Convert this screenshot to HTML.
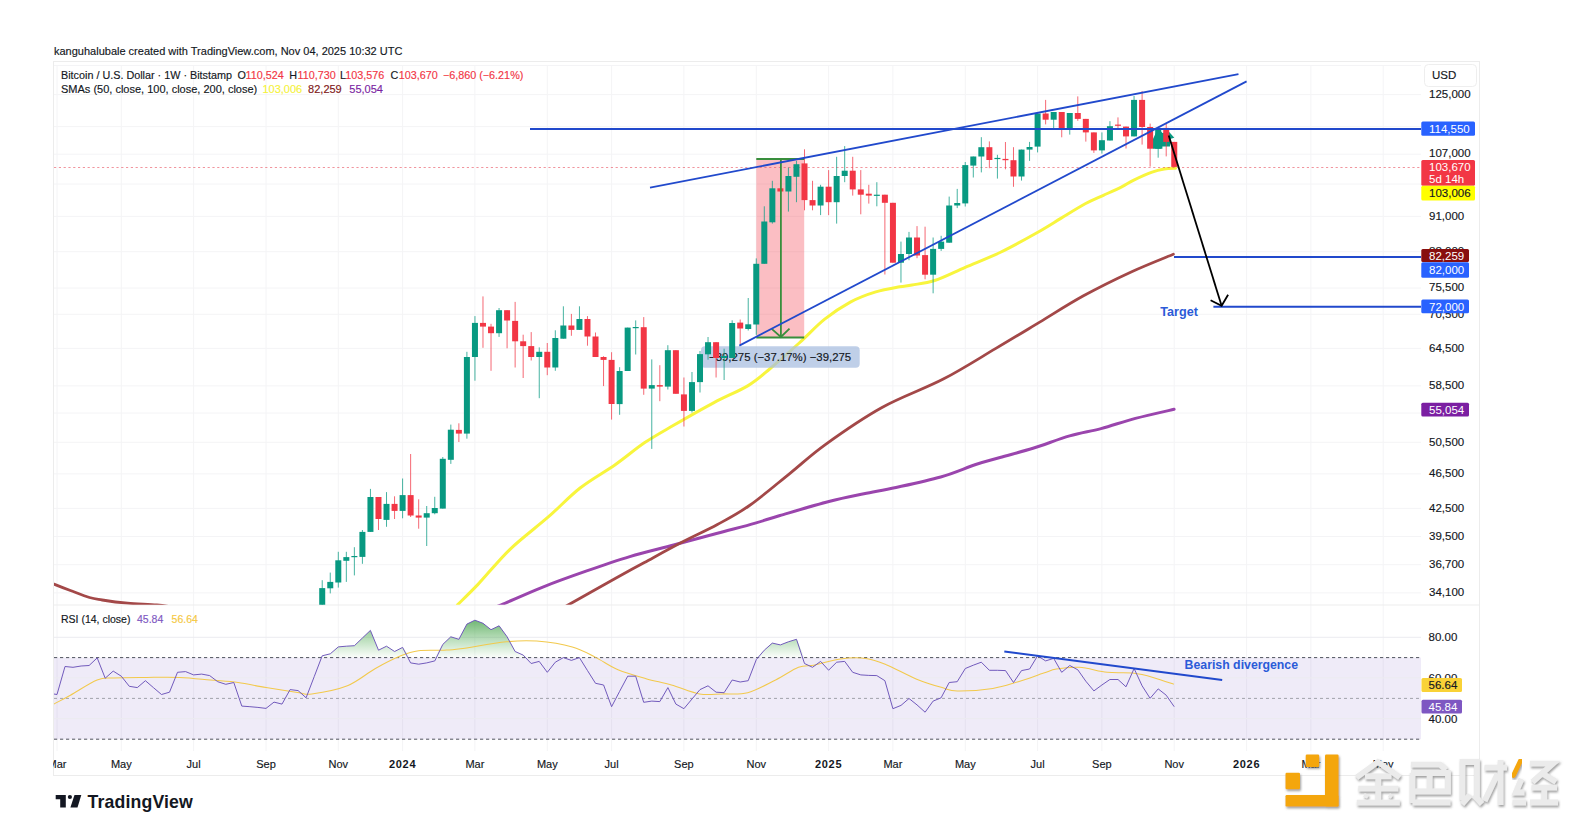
<!DOCTYPE html>
<html><head><meta charset="utf-8"><style>
html,body{margin:0;padding:0;background:#fff;width:1574px;height:822px;overflow:hidden}
svg{display:block}
text{font-family:'Liberation Sans',sans-serif}
</style></head><body>
<svg width="1574" height="822" viewBox="0 0 1574 822">
<defs>
<clipPath id="mainclip"><rect x="54" y="62" width="1367" height="542.8"/></clipPath>
<clipPath id="rsiclip"><rect x="54" y="605" width="1367" height="146"/></clipPath>
<linearGradient id="gfill" x1="0" y1="0" x2="0" y2="1">
<stop offset="0" stop-color="#43a047" stop-opacity="0.75"/>
<stop offset="1" stop-color="#4caf50" stop-opacity="0.02"/>
</linearGradient>
<filter id="wsh" x="-10%" y="-10%" width="130%" height="140%"><feDropShadow dx="1" dy="1.8" stdDeviation="1.2" flood-color="#6a6a6a" flood-opacity="0.65"/></filter>
</defs>
<rect width="1574" height="822" fill="#fff"/>

<text stroke="#131722" stroke-width="0.15" x="54" y="55.3" font-size="11" fill="#131722">kanguhalubale created with TradingView.com, Nov 04, 2025 10:32 UTC</text>
<rect x="53.5" y="61.5" width="1426" height="714" fill="none" stroke="#ececec" stroke-width="1"/>
<line x1="57.0" y1="65" x2="57.0" y2="751" stroke="#f4f4f6" stroke-width="1"/>
<line x1="121.3" y1="65" x2="121.3" y2="751" stroke="#f4f4f6" stroke-width="1"/>
<line x1="193.6" y1="65" x2="193.6" y2="751" stroke="#f4f4f6" stroke-width="1"/>
<line x1="266.0" y1="65" x2="266.0" y2="751" stroke="#f4f4f6" stroke-width="1"/>
<line x1="338.3" y1="65" x2="338.3" y2="751" stroke="#f4f4f6" stroke-width="1"/>
<line x1="402.6" y1="65" x2="402.6" y2="751" stroke="#f4f4f6" stroke-width="1"/>
<line x1="474.9" y1="65" x2="474.9" y2="751" stroke="#f4f4f6" stroke-width="1"/>
<line x1="547.3" y1="65" x2="547.3" y2="751" stroke="#f4f4f6" stroke-width="1"/>
<line x1="611.6" y1="65" x2="611.6" y2="751" stroke="#f4f4f6" stroke-width="1"/>
<line x1="683.9" y1="65" x2="683.9" y2="751" stroke="#f4f4f6" stroke-width="1"/>
<line x1="756.3" y1="65" x2="756.3" y2="751" stroke="#f4f4f6" stroke-width="1"/>
<line x1="828.6" y1="65" x2="828.6" y2="751" stroke="#f4f4f6" stroke-width="1"/>
<line x1="892.9" y1="65" x2="892.9" y2="751" stroke="#f4f4f6" stroke-width="1"/>
<line x1="965.3" y1="65" x2="965.3" y2="751" stroke="#f4f4f6" stroke-width="1"/>
<line x1="1037.6" y1="65" x2="1037.6" y2="751" stroke="#f4f4f6" stroke-width="1"/>
<line x1="1101.9" y1="65" x2="1101.9" y2="751" stroke="#f4f4f6" stroke-width="1"/>
<line x1="1174.2" y1="65" x2="1174.2" y2="751" stroke="#f4f4f6" stroke-width="1"/>
<line x1="1246.6" y1="65" x2="1246.6" y2="751" stroke="#f4f4f6" stroke-width="1"/>
<line x1="1310.9" y1="65" x2="1310.9" y2="751" stroke="#f4f4f6" stroke-width="1"/>
<line x1="1383.2" y1="65" x2="1383.2" y2="751" stroke="#f4f4f6" stroke-width="1"/>
<line x1="54" y1="94.6" x2="1421" y2="94.6" stroke="#f4f4f6" stroke-width="1"/>
<line x1="54" y1="126.6" x2="1421" y2="126.6" stroke="#f4f4f6" stroke-width="1"/>
<line x1="54" y1="154.2" x2="1421" y2="154.2" stroke="#f4f4f6" stroke-width="1"/>
<line x1="54" y1="184.0" x2="1421" y2="184.0" stroke="#f4f4f6" stroke-width="1"/>
<line x1="54" y1="216.4" x2="1421" y2="216.4" stroke="#f4f4f6" stroke-width="1"/>
<line x1="54" y1="251.7" x2="1421" y2="251.7" stroke="#f4f4f6" stroke-width="1"/>
<line x1="54" y1="288.0" x2="1421" y2="288.0" stroke="#f4f4f6" stroke-width="1"/>
<line x1="54" y1="314.3" x2="1421" y2="314.3" stroke="#f4f4f6" stroke-width="1"/>
<line x1="54" y1="348.4" x2="1421" y2="348.4" stroke="#f4f4f6" stroke-width="1"/>
<line x1="54" y1="385.9" x2="1421" y2="385.9" stroke="#f4f4f6" stroke-width="1"/>
<line x1="54" y1="413.0" x2="1421" y2="413.0" stroke="#f4f4f6" stroke-width="1"/>
<line x1="54" y1="442.3" x2="1421" y2="442.3" stroke="#f4f4f6" stroke-width="1"/>
<line x1="54" y1="473.9" x2="1421" y2="473.9" stroke="#f4f4f6" stroke-width="1"/>
<line x1="54" y1="508.4" x2="1421" y2="508.4" stroke="#f4f4f6" stroke-width="1"/>
<line x1="54" y1="536.5" x2="1421" y2="536.5" stroke="#f4f4f6" stroke-width="1"/>
<line x1="54" y1="564.7" x2="1421" y2="564.7" stroke="#f4f4f6" stroke-width="1"/>
<line x1="54" y1="592.9" x2="1421" y2="592.9" stroke="#f4f4f6" stroke-width="1"/>
<line x1="54" y1="65.5" x2="1421" y2="65.5" stroke="#f4f4f6" stroke-width="1"/>
<line x1="54" y1="605" x2="1479" y2="605" stroke="#ededed" stroke-width="1"/>
<g clip-path="url(#mainclip)">
<rect x="756.3" y="158.9" width="47.9" height="178.6" fill="#f23645" fill-opacity="0.32"/>
<path d="M53.9,584.1 C56.6,585.2 64.5,588.3 70.4,590.5 C76.3,592.7 84.2,595.9 89.5,597.5 C94.8,599.1 95.9,599.0 102.2,600.0 C108.5,601.0 118.5,602.4 127.6,603.2 C136.7,604.0 148.7,604.3 156.8,605.0 C164.9,605.7 172.8,607.1 176.0,607.5" fill="none" stroke="#a34848" stroke-width="2.8" stroke-linecap="round"/>
<path d="M490.0,609.0 C491.9,608.3 492.6,608.4 501.3,604.8 C510.0,601.2 528.1,592.9 542.2,587.3 C556.3,581.7 571.4,576.3 586.0,571.2 C600.6,566.1 615.2,561.0 629.8,556.6 C644.4,552.2 659.0,548.9 673.6,545.0 C688.2,541.1 703.8,536.9 717.4,533.3 C731.0,529.6 744.9,526.1 755.3,523.1 C765.7,520.1 767.7,519.1 780.0,515.5 C792.3,511.9 814.9,505.1 828.9,501.5 C842.9,497.9 852.7,496.1 863.9,493.8 C875.1,491.5 883.2,490.3 896.0,487.5 C908.8,484.7 927.4,480.8 940.7,477.0 C954.0,473.2 965.8,467.8 975.7,464.5 C985.6,461.2 990.5,460.2 1000.0,457.5 C1009.5,454.8 1021.4,451.9 1033.0,448.3 C1044.6,444.7 1058.3,439.2 1069.6,435.9 C1080.9,432.6 1090.0,431.5 1101.0,428.6 C1112.0,425.7 1123.2,421.6 1135.4,418.4 C1147.6,415.2 1167.6,410.8 1174.1,409.3" fill="none" stroke="#9a45ad" stroke-width="3" stroke-linecap="round"/>
<path d="M560.0,609.0 C561.4,608.3 559.3,609.9 568.5,604.8 C577.7,599.7 602.6,585.5 615.2,578.5 C627.9,571.5 633.2,568.6 644.4,562.5 C655.6,556.4 670.1,548.3 682.3,542.0 C694.5,535.7 706.2,530.6 717.4,524.5 C728.6,518.4 737.4,514.0 749.5,505.5 C761.6,497.0 777.4,483.4 790.0,473.3 C802.6,463.2 809.7,455.8 825.0,444.8 C840.3,433.8 862.3,418.4 882.0,407.5 C901.7,396.6 924.3,389.0 943.3,379.1 C962.3,369.2 979.8,357.9 995.9,348.4 C1012.0,338.9 1025.1,330.9 1039.7,322.1 C1054.3,313.3 1068.2,304.2 1083.5,295.8 C1098.8,287.4 1116.7,278.6 1131.7,271.7 C1146.7,264.8 1166.5,257.1 1173.4,254.2" fill="none" stroke="#a34848" stroke-width="2.8" stroke-linecap="round"/>
<path d="M457.5,604.8 C460.9,601.4 469.2,593.6 478.0,584.4 C486.8,575.1 498.3,560.5 510.0,549.3 C521.7,538.1 536.3,527.4 548.0,517.2 C559.7,507.0 568.9,496.8 580.1,488.0 C591.3,479.2 604.5,472.2 615.2,464.7 C625.9,457.2 634.7,449.4 644.4,442.8 C654.1,436.2 662.0,432.0 673.6,425.3 C685.2,418.6 701.6,409.2 714.0,402.6 C726.4,396.0 738.7,391.3 748.1,385.6 C757.5,379.9 761.7,375.6 770.2,368.5 C778.7,361.4 790.1,351.2 799.2,343.0 C808.3,334.8 816.2,326.0 824.7,319.2 C833.2,312.4 841.8,306.7 850.3,302.1 C858.8,297.6 867.6,294.4 875.8,291.9 C884.0,289.3 893.6,287.9 899.6,286.8 C905.6,285.7 906.2,286.1 912.0,285.0 C917.8,283.9 925.7,283.4 934.6,280.5 C943.5,277.6 954.3,272.0 965.2,267.3 C976.1,262.6 988.1,258.2 1000.0,252.5 C1011.9,246.8 1026.4,238.7 1036.5,233.0 C1046.6,227.3 1052.7,223.3 1060.8,218.4 C1068.9,213.5 1078.1,207.7 1085.2,203.8 C1092.3,200.0 1097.3,198.1 1103.4,195.3 C1109.5,192.5 1116.6,189.3 1121.7,186.8 C1126.8,184.3 1128.7,182.5 1133.8,180.1 C1138.9,177.7 1147.0,174.0 1152.1,172.2 C1157.2,170.4 1160.3,169.8 1164.2,169.1 C1168.1,168.4 1173.6,168.4 1175.5,168.3" fill="none" stroke="#f8f53d" stroke-width="3" stroke-linecap="round"/>
<line x1="54" y1="167.5" x2="1421" y2="167.5" stroke="#e8505e" stroke-width="1" stroke-dasharray="2.2,2.6" opacity="0.6"/>
</g>
<rect x="701" y="346.2" width="158.7" height="21.6" rx="4" fill="#a9bfe0" fill-opacity="0.75"/>
<text stroke="#131722" stroke-width="0.15" x="709" y="360.9" font-size="11.4" fill="#131722">−39,275 (−37.17%) −39,275</text>
<g clip-path="url(#mainclip)">
<polygon points="1153,148.7 1153,139 1158.1,127.9 1162.4,133 1169.2,132.1 1174.3,137.7 1170,139 1170,146.6 1162.4,146.6 1162.4,148.7" fill="#089981"/>
<line x1="322.22" y1="580.2" x2="322.22" y2="605.0" stroke="#089981" stroke-width="1" stroke-opacity="0.75"/>
<rect x="319.22" y="588.1" width="6" height="16.9" fill="#089981"/>
<line x1="330.26" y1="572.6" x2="330.26" y2="593.4" stroke="#089981" stroke-width="1" stroke-opacity="0.75"/>
<rect x="327.26" y="581.9" width="6" height="6.4" fill="#089981"/>
<line x1="338.30" y1="551.8" x2="338.30" y2="587.6" stroke="#089981" stroke-width="1" stroke-opacity="0.75"/>
<rect x="335.30" y="560.3" width="6" height="22.2" fill="#089981"/>
<line x1="346.33" y1="551.8" x2="346.33" y2="581.9" stroke="#089981" stroke-width="1" stroke-opacity="0.75"/>
<rect x="343.33" y="557.1" width="6" height="3.7" fill="#089981"/>
<line x1="354.37" y1="547.2" x2="354.37" y2="575.4" stroke="#089981" stroke-width="1" stroke-opacity="0.75"/>
<rect x="351.37" y="556.0" width="6" height="1.2" fill="#089981"/>
<line x1="362.41" y1="530.0" x2="362.41" y2="563.8" stroke="#089981" stroke-width="1" stroke-opacity="0.75"/>
<rect x="359.41" y="531.9" width="6" height="25.0" fill="#089981"/>
<line x1="370.45" y1="488.9" x2="370.45" y2="531.9" stroke="#089981" stroke-width="1" stroke-opacity="0.75"/>
<rect x="367.45" y="497.0" width="6" height="34.9" fill="#089981"/>
<line x1="378.49" y1="497.0" x2="378.49" y2="530.0" stroke="#f23645" stroke-width="1" stroke-opacity="0.75"/>
<rect x="375.49" y="497.0" width="6" height="22.0" fill="#f23645"/>
<line x1="386.52" y1="492.1" x2="386.52" y2="526.8" stroke="#089981" stroke-width="1" stroke-opacity="0.75"/>
<rect x="383.52" y="503.9" width="6" height="16.0" fill="#089981"/>
<line x1="394.56" y1="496.3" x2="394.56" y2="519.0" stroke="#f23645" stroke-width="1" stroke-opacity="0.75"/>
<rect x="391.56" y="503.9" width="6" height="7.0" fill="#f23645"/>
<line x1="402.60" y1="478.5" x2="402.60" y2="518.3" stroke="#089981" stroke-width="1" stroke-opacity="0.75"/>
<rect x="399.60" y="495.1" width="6" height="15.8" fill="#089981"/>
<line x1="410.64" y1="454.0" x2="410.64" y2="517.0" stroke="#f23645" stroke-width="1" stroke-opacity="0.75"/>
<rect x="407.64" y="495.1" width="6" height="20.4" fill="#f23645"/>
<line x1="418.68" y1="499.3" x2="418.68" y2="528.7" stroke="#f23645" stroke-width="1" stroke-opacity="0.75"/>
<rect x="415.68" y="515.5" width="6" height="2.1" fill="#f23645"/>
<line x1="426.71" y1="506.0" x2="426.71" y2="546.0" stroke="#089981" stroke-width="1" stroke-opacity="0.75"/>
<rect x="423.71" y="513.2" width="6" height="4.4" fill="#089981"/>
<line x1="434.75" y1="496.8" x2="434.75" y2="514.3" stroke="#089981" stroke-width="1" stroke-opacity="0.75"/>
<rect x="431.75" y="508.0" width="6" height="5.2" fill="#089981"/>
<line x1="442.79" y1="457.0" x2="442.79" y2="508.6" stroke="#089981" stroke-width="1" stroke-opacity="0.75"/>
<rect x="439.79" y="458.8" width="6" height="49.8" fill="#089981"/>
<line x1="450.83" y1="424.6" x2="450.83" y2="463.9" stroke="#089981" stroke-width="1" stroke-opacity="0.75"/>
<rect x="447.83" y="429.7" width="6" height="30.1" fill="#089981"/>
<line x1="458.87" y1="423.3" x2="458.87" y2="442.0" stroke="#f23645" stroke-width="1" stroke-opacity="0.75"/>
<rect x="455.87" y="429.9" width="6" height="3.7" fill="#f23645"/>
<line x1="466.90" y1="351.8" x2="466.90" y2="438.7" stroke="#089981" stroke-width="1" stroke-opacity="0.75"/>
<rect x="463.90" y="357.0" width="6" height="76.6" fill="#089981"/>
<line x1="474.94" y1="316.1" x2="474.94" y2="380.7" stroke="#089981" stroke-width="1" stroke-opacity="0.75"/>
<rect x="471.94" y="322.9" width="6" height="34.1" fill="#089981"/>
<line x1="482.98" y1="296.4" x2="482.98" y2="347.8" stroke="#f23645" stroke-width="1" stroke-opacity="0.75"/>
<rect x="479.98" y="322.9" width="6" height="3.7" fill="#f23645"/>
<line x1="491.02" y1="323.8" x2="491.02" y2="370.8" stroke="#f23645" stroke-width="1" stroke-opacity="0.75"/>
<rect x="488.02" y="326.6" width="6" height="6.6" fill="#f23645"/>
<line x1="499.06" y1="308.0" x2="499.06" y2="336.9" stroke="#089981" stroke-width="1" stroke-opacity="0.75"/>
<rect x="496.06" y="310.2" width="6" height="23.0" fill="#089981"/>
<line x1="507.09" y1="310.2" x2="507.09" y2="348.3" stroke="#f23645" stroke-width="1" stroke-opacity="0.75"/>
<rect x="504.09" y="310.2" width="6" height="10.3" fill="#f23645"/>
<line x1="515.13" y1="301.9" x2="515.13" y2="367.5" stroke="#f23645" stroke-width="1" stroke-opacity="0.75"/>
<rect x="512.13" y="320.9" width="6" height="20.4" fill="#f23645"/>
<line x1="523.17" y1="334.7" x2="523.17" y2="378.0" stroke="#f23645" stroke-width="1" stroke-opacity="0.75"/>
<rect x="520.17" y="341.3" width="6" height="4.8" fill="#f23645"/>
<line x1="531.21" y1="332.1" x2="531.21" y2="360.5" stroke="#f23645" stroke-width="1" stroke-opacity="0.75"/>
<rect x="528.21" y="346.1" width="6" height="10.9" fill="#f23645"/>
<line x1="539.25" y1="347.4" x2="539.25" y2="398.2" stroke="#089981" stroke-width="1" stroke-opacity="0.75"/>
<rect x="536.25" y="351.8" width="6" height="5.2" fill="#089981"/>
<line x1="547.28" y1="343.0" x2="547.28" y2="375.2" stroke="#f23645" stroke-width="1" stroke-opacity="0.75"/>
<rect x="544.28" y="351.8" width="6" height="15.7" fill="#f23645"/>
<line x1="555.32" y1="330.3" x2="555.32" y2="370.8" stroke="#089981" stroke-width="1" stroke-opacity="0.75"/>
<rect x="552.32" y="338.0" width="6" height="29.5" fill="#089981"/>
<line x1="563.36" y1="306.3" x2="563.36" y2="338.7" stroke="#089981" stroke-width="1" stroke-opacity="0.75"/>
<rect x="560.36" y="325.5" width="6" height="13.2" fill="#089981"/>
<line x1="571.40" y1="313.9" x2="571.40" y2="335.8" stroke="#f23645" stroke-width="1" stroke-opacity="0.75"/>
<rect x="568.40" y="325.5" width="6" height="4.4" fill="#f23645"/>
<line x1="579.44" y1="306.3" x2="579.44" y2="329.9" stroke="#089981" stroke-width="1" stroke-opacity="0.75"/>
<rect x="576.44" y="319.0" width="6" height="10.9" fill="#089981"/>
<line x1="587.47" y1="316.1" x2="587.47" y2="345.7" stroke="#f23645" stroke-width="1" stroke-opacity="0.75"/>
<rect x="584.47" y="319.0" width="6" height="17.5" fill="#f23645"/>
<line x1="595.51" y1="332.5" x2="595.51" y2="357.0" stroke="#f23645" stroke-width="1" stroke-opacity="0.75"/>
<rect x="592.51" y="336.5" width="6" height="20.5" fill="#f23645"/>
<line x1="603.55" y1="356.2" x2="603.55" y2="386.1" stroke="#f23645" stroke-width="1" stroke-opacity="0.75"/>
<rect x="600.55" y="357.0" width="6" height="2.9" fill="#f23645"/>
<line x1="611.59" y1="352.2" x2="611.59" y2="419.6" stroke="#f23645" stroke-width="1" stroke-opacity="0.75"/>
<rect x="608.59" y="359.9" width="6" height="44.1" fill="#f23645"/>
<line x1="619.63" y1="367.2" x2="619.63" y2="414.8" stroke="#089981" stroke-width="1" stroke-opacity="0.75"/>
<rect x="616.63" y="371.0" width="6" height="33.1" fill="#089981"/>
<line x1="627.66" y1="327.6" x2="627.66" y2="371.0" stroke="#089981" stroke-width="1" stroke-opacity="0.75"/>
<rect x="624.66" y="327.6" width="6" height="43.4" fill="#089981"/>
<line x1="635.70" y1="320.4" x2="635.70" y2="354.5" stroke="#089981" stroke-width="1" stroke-opacity="0.75"/>
<rect x="632.70" y="327.0" width="6" height="1.2" fill="#089981"/>
<line x1="643.74" y1="317.1" x2="643.74" y2="394.8" stroke="#f23645" stroke-width="1" stroke-opacity="0.75"/>
<rect x="640.74" y="327.2" width="6" height="61.4" fill="#f23645"/>
<line x1="651.78" y1="359.4" x2="651.78" y2="448.9" stroke="#089981" stroke-width="1" stroke-opacity="0.75"/>
<rect x="648.78" y="385.1" width="6" height="3.5" fill="#089981"/>
<line x1="659.82" y1="365.2" x2="659.82" y2="401.2" stroke="#f23645" stroke-width="1" stroke-opacity="0.75"/>
<rect x="656.82" y="385.1" width="6" height="1.5" fill="#f23645"/>
<line x1="667.85" y1="345.2" x2="667.85" y2="389.5" stroke="#089981" stroke-width="1" stroke-opacity="0.75"/>
<rect x="664.85" y="350.2" width="6" height="36.4" fill="#089981"/>
<line x1="675.89" y1="350.2" x2="675.89" y2="393.8" stroke="#f23645" stroke-width="1" stroke-opacity="0.75"/>
<rect x="672.89" y="350.2" width="6" height="43.6" fill="#f23645"/>
<line x1="683.93" y1="377.5" x2="683.93" y2="426.5" stroke="#f23645" stroke-width="1" stroke-opacity="0.75"/>
<rect x="680.93" y="394.4" width="6" height="16.5" fill="#f23645"/>
<line x1="691.97" y1="372.0" x2="691.97" y2="412.5" stroke="#089981" stroke-width="1" stroke-opacity="0.75"/>
<rect x="688.97" y="382.1" width="6" height="28.8" fill="#089981"/>
<line x1="700.01" y1="351.0" x2="700.01" y2="392.5" stroke="#089981" stroke-width="1" stroke-opacity="0.75"/>
<rect x="697.01" y="354.1" width="6" height="28.0" fill="#089981"/>
<line x1="708.04" y1="337.0" x2="708.04" y2="359.7" stroke="#089981" stroke-width="1" stroke-opacity="0.75"/>
<rect x="705.04" y="342.2" width="6" height="12.1" fill="#089981"/>
<line x1="716.08" y1="342.2" x2="716.08" y2="377.5" stroke="#f23645" stroke-width="1" stroke-opacity="0.75"/>
<rect x="713.08" y="342.2" width="6" height="15.8" fill="#f23645"/>
<line x1="724.12" y1="348.7" x2="724.12" y2="380.0" stroke="#089981" stroke-width="1" stroke-opacity="0.75"/>
<rect x="721.12" y="356.0" width="6" height="2.0" fill="#089981"/>
<line x1="732.16" y1="320.3" x2="732.16" y2="358.0" stroke="#089981" stroke-width="1" stroke-opacity="0.75"/>
<rect x="729.16" y="323.0" width="6" height="35.0" fill="#089981"/>
<line x1="740.20" y1="319.5" x2="740.20" y2="344.0" stroke="#f23645" stroke-width="1" stroke-opacity="0.75"/>
<rect x="737.20" y="322.6" width="6" height="5.9" fill="#f23645"/>
<line x1="748.23" y1="298.0" x2="748.23" y2="330.5" stroke="#089981" stroke-width="1" stroke-opacity="0.75"/>
<rect x="745.23" y="324.3" width="6" height="4.7" fill="#089981"/>
<line x1="756.27" y1="258.4" x2="756.27" y2="334.8" stroke="#089981" stroke-width="1" stroke-opacity="0.75"/>
<rect x="753.27" y="263.8" width="6" height="60.7" fill="#089981"/>
<line x1="764.31" y1="206.3" x2="764.31" y2="263.8" stroke="#089981" stroke-width="1" stroke-opacity="0.75"/>
<rect x="761.31" y="221.5" width="6" height="42.3" fill="#089981"/>
<line x1="772.35" y1="180.8" x2="772.35" y2="223.6" stroke="#089981" stroke-width="1" stroke-opacity="0.75"/>
<rect x="769.35" y="188.3" width="6" height="34.0" fill="#089981"/>
<line x1="780.39" y1="188.3" x2="780.39" y2="191.5" stroke="#f23645" stroke-width="1" stroke-opacity="0.75"/>
<rect x="777.39" y="188.3" width="6" height="3.2" fill="#f23645"/>
<line x1="788.42" y1="167.5" x2="788.42" y2="211.6" stroke="#089981" stroke-width="1" stroke-opacity="0.75"/>
<rect x="785.42" y="176.0" width="6" height="15.5" fill="#089981"/>
<line x1="796.46" y1="160.8" x2="796.46" y2="202.2" stroke="#089981" stroke-width="1" stroke-opacity="0.75"/>
<rect x="793.46" y="164.2" width="6" height="12.6" fill="#089981"/>
<line x1="804.50" y1="149.3" x2="804.50" y2="210.3" stroke="#f23645" stroke-width="1" stroke-opacity="0.75"/>
<rect x="801.50" y="163.4" width="6" height="36.7" fill="#f23645"/>
<line x1="812.54" y1="180.8" x2="812.54" y2="210.3" stroke="#f23645" stroke-width="1" stroke-opacity="0.75"/>
<rect x="809.54" y="200.1" width="6" height="5.4" fill="#f23645"/>
<line x1="820.58" y1="184.8" x2="820.58" y2="215.1" stroke="#089981" stroke-width="1" stroke-opacity="0.75"/>
<rect x="817.58" y="186.7" width="6" height="18.8" fill="#089981"/>
<line x1="828.61" y1="170.1" x2="828.61" y2="215.1" stroke="#f23645" stroke-width="1" stroke-opacity="0.75"/>
<rect x="825.61" y="186.7" width="6" height="15.5" fill="#f23645"/>
<line x1="836.65" y1="156.8" x2="836.65" y2="223.6" stroke="#089981" stroke-width="1" stroke-opacity="0.75"/>
<rect x="833.65" y="176.0" width="6" height="26.2" fill="#089981"/>
<line x1="844.69" y1="146.1" x2="844.69" y2="182.2" stroke="#089981" stroke-width="1" stroke-opacity="0.75"/>
<rect x="841.69" y="170.7" width="6" height="5.3" fill="#089981"/>
<line x1="852.73" y1="156.8" x2="852.73" y2="195.6" stroke="#f23645" stroke-width="1" stroke-opacity="0.75"/>
<rect x="849.73" y="170.7" width="6" height="18.7" fill="#f23645"/>
<line x1="860.77" y1="170.1" x2="860.77" y2="214.3" stroke="#f23645" stroke-width="1" stroke-opacity="0.75"/>
<rect x="857.77" y="189.4" width="6" height="5.3" fill="#f23645"/>
<line x1="868.80" y1="184.8" x2="868.80" y2="203.6" stroke="#f23645" stroke-width="1" stroke-opacity="0.75"/>
<rect x="865.80" y="193.7" width="6" height="1.9" fill="#f23645"/>
<line x1="876.84" y1="182.2" x2="876.84" y2="206.3" stroke="#089981" stroke-width="1" stroke-opacity="0.75"/>
<rect x="873.84" y="194.7" width="6" height="1.2" fill="#089981"/>
<line x1="884.88" y1="194.7" x2="884.88" y2="274.5" stroke="#f23645" stroke-width="1" stroke-opacity="0.75"/>
<rect x="881.88" y="194.7" width="6" height="8.1" fill="#f23645"/>
<line x1="892.92" y1="202.8" x2="892.92" y2="262.7" stroke="#f23645" stroke-width="1" stroke-opacity="0.75"/>
<rect x="889.92" y="202.8" width="6" height="59.9" fill="#f23645"/>
<line x1="900.96" y1="241.6" x2="900.96" y2="282.6" stroke="#089981" stroke-width="1" stroke-opacity="0.75"/>
<rect x="897.96" y="254.0" width="6" height="8.7" fill="#089981"/>
<line x1="908.99" y1="231.9" x2="908.99" y2="260.2" stroke="#089981" stroke-width="1" stroke-opacity="0.75"/>
<rect x="905.99" y="237.5" width="6" height="16.5" fill="#089981"/>
<line x1="917.03" y1="226.1" x2="917.03" y2="258.2" stroke="#f23645" stroke-width="1" stroke-opacity="0.75"/>
<rect x="914.03" y="237.5" width="6" height="18.0" fill="#f23645"/>
<line x1="925.07" y1="226.7" x2="925.07" y2="279.3" stroke="#f23645" stroke-width="1" stroke-opacity="0.75"/>
<rect x="922.07" y="255.1" width="6" height="19.6" fill="#f23645"/>
<line x1="933.11" y1="237.5" x2="933.11" y2="293.3" stroke="#089981" stroke-width="1" stroke-opacity="0.75"/>
<rect x="930.11" y="248.9" width="6" height="25.8" fill="#089981"/>
<line x1="941.15" y1="235.8" x2="941.15" y2="250.9" stroke="#089981" stroke-width="1" stroke-opacity="0.75"/>
<rect x="938.15" y="241.6" width="6" height="7.3" fill="#089981"/>
<line x1="949.18" y1="196.6" x2="949.18" y2="242.7" stroke="#089981" stroke-width="1" stroke-opacity="0.75"/>
<rect x="946.18" y="205.5" width="6" height="37.2" fill="#089981"/>
<line x1="957.22" y1="188.9" x2="957.22" y2="208.1" stroke="#089981" stroke-width="1" stroke-opacity="0.75"/>
<rect x="954.22" y="203.0" width="6" height="2.5" fill="#089981"/>
<line x1="965.26" y1="162.0" x2="965.26" y2="206.5" stroke="#089981" stroke-width="1" stroke-opacity="0.75"/>
<rect x="962.26" y="165.1" width="6" height="38.3" fill="#089981"/>
<line x1="973.30" y1="156.5" x2="973.30" y2="177.5" stroke="#089981" stroke-width="1" stroke-opacity="0.75"/>
<rect x="970.30" y="156.5" width="6" height="9.1" fill="#089981"/>
<line x1="981.34" y1="137.2" x2="981.34" y2="172.4" stroke="#089981" stroke-width="1" stroke-opacity="0.75"/>
<rect x="978.34" y="147.2" width="6" height="9.3" fill="#089981"/>
<line x1="989.37" y1="141.4" x2="989.37" y2="168.2" stroke="#f23645" stroke-width="1" stroke-opacity="0.75"/>
<rect x="986.37" y="147.2" width="6" height="12.8" fill="#f23645"/>
<line x1="997.41" y1="154.8" x2="997.41" y2="178.6" stroke="#089981" stroke-width="1" stroke-opacity="0.75"/>
<rect x="994.41" y="157.9" width="6" height="1.2" fill="#089981"/>
<line x1="1005.45" y1="142.0" x2="1005.45" y2="169.3" stroke="#f23645" stroke-width="1" stroke-opacity="0.75"/>
<rect x="1002.45" y="158.9" width="6" height="1.3" fill="#f23645"/>
<line x1="1013.49" y1="147.2" x2="1013.49" y2="186.8" stroke="#f23645" stroke-width="1" stroke-opacity="0.75"/>
<rect x="1010.49" y="160.2" width="6" height="16.3" fill="#f23645"/>
<line x1="1021.53" y1="149.6" x2="1021.53" y2="180.6" stroke="#089981" stroke-width="1" stroke-opacity="0.75"/>
<rect x="1018.53" y="149.6" width="6" height="26.9" fill="#089981"/>
<line x1="1029.56" y1="141.9" x2="1029.56" y2="160.9" stroke="#089981" stroke-width="1" stroke-opacity="0.75"/>
<rect x="1026.56" y="147.0" width="6" height="2.6" fill="#089981"/>
<line x1="1037.60" y1="112.7" x2="1037.60" y2="152.4" stroke="#089981" stroke-width="1" stroke-opacity="0.75"/>
<rect x="1034.60" y="113.5" width="6" height="33.1" fill="#089981"/>
<line x1="1045.64" y1="99.9" x2="1045.64" y2="124.4" stroke="#f23645" stroke-width="1" stroke-opacity="0.75"/>
<rect x="1042.64" y="113.5" width="6" height="6.2" fill="#f23645"/>
<line x1="1053.68" y1="112.0" x2="1053.68" y2="128.1" stroke="#089981" stroke-width="1" stroke-opacity="0.75"/>
<rect x="1050.68" y="112.0" width="6" height="7.7" fill="#089981"/>
<line x1="1061.72" y1="112.0" x2="1061.72" y2="137.3" stroke="#f23645" stroke-width="1" stroke-opacity="0.75"/>
<rect x="1058.72" y="112.0" width="6" height="17.8" fill="#f23645"/>
<line x1="1069.75" y1="113.0" x2="1069.75" y2="134.6" stroke="#089981" stroke-width="1" stroke-opacity="0.75"/>
<rect x="1066.75" y="113.0" width="6" height="16.8" fill="#089981"/>
<line x1="1077.79" y1="96.4" x2="1077.79" y2="120.8" stroke="#f23645" stroke-width="1" stroke-opacity="0.75"/>
<rect x="1074.79" y="113.0" width="6" height="5.9" fill="#f23645"/>
<line x1="1085.83" y1="118.9" x2="1085.83" y2="141.6" stroke="#f23645" stroke-width="1" stroke-opacity="0.75"/>
<rect x="1082.83" y="118.9" width="6" height="13.5" fill="#f23645"/>
<line x1="1093.87" y1="132.4" x2="1093.87" y2="152.9" stroke="#f23645" stroke-width="1" stroke-opacity="0.75"/>
<rect x="1090.87" y="132.4" width="6" height="18.0" fill="#f23645"/>
<line x1="1101.91" y1="132.4" x2="1101.91" y2="153.6" stroke="#089981" stroke-width="1" stroke-opacity="0.75"/>
<rect x="1098.91" y="140.2" width="6" height="10.2" fill="#089981"/>
<line x1="1109.94" y1="121.2" x2="1109.94" y2="140.5" stroke="#089981" stroke-width="1" stroke-opacity="0.75"/>
<rect x="1106.94" y="126.2" width="6" height="14.3" fill="#089981"/>
<line x1="1117.98" y1="117.4" x2="1117.98" y2="128.1" stroke="#f23645" stroke-width="1" stroke-opacity="0.75"/>
<rect x="1114.98" y="124.6" width="6" height="1.2" fill="#f23645"/>
<line x1="1126.02" y1="126.6" x2="1126.02" y2="148.5" stroke="#f23645" stroke-width="1" stroke-opacity="0.75"/>
<rect x="1123.02" y="126.6" width="6" height="9.8" fill="#f23645"/>
<line x1="1134.06" y1="96.0" x2="1134.06" y2="136.4" stroke="#089981" stroke-width="1" stroke-opacity="0.75"/>
<rect x="1131.06" y="99.9" width="6" height="36.5" fill="#089981"/>
<line x1="1142.10" y1="91.1" x2="1142.10" y2="144.6" stroke="#f23645" stroke-width="1" stroke-opacity="0.75"/>
<rect x="1139.10" y="99.9" width="6" height="27.1" fill="#f23645"/>
<line x1="1150.13" y1="123.6" x2="1150.13" y2="166.6" stroke="#f23645" stroke-width="1" stroke-opacity="0.75"/>
<rect x="1147.13" y="127.0" width="6" height="21.7" fill="#f23645"/>
<line x1="1158.17" y1="127.9" x2="1158.17" y2="157.7" stroke="#089981" stroke-width="1" stroke-opacity="0.75"/>
<rect x="1155.17" y="127.9" width="6" height="20.8" fill="#089981"/>
<line x1="1166.21" y1="124.0" x2="1166.21" y2="156.4" stroke="#f23645" stroke-width="1" stroke-opacity="0.75"/>
<rect x="1163.21" y="127.9" width="6" height="14.0" fill="#f23645"/>
<line x1="1174.25" y1="141.9" x2="1174.25" y2="166.9" stroke="#f23645" stroke-width="1" stroke-opacity="0.75"/>
<rect x="1171.25" y="141.9" width="6" height="25.0" fill="#f23645"/>
</g>
<g clip-path="url(#mainclip)">
<line x1="756.3" y1="158.9" x2="804.2" y2="158.9" stroke="#388e3c" stroke-width="2"/>
<line x1="756.3" y1="337.5" x2="804.2" y2="337.5" stroke="#388e3c" stroke-width="2"/>
<line x1="780.9" y1="158.9" x2="780.9" y2="337" stroke="#388e3c" stroke-width="1.8"/>
<polyline points="771.7,328.9 780.9,337 789.5,328.6" fill="none" stroke="#388e3c" stroke-width="1.8"/>
<line x1="650" y1="187.6" x2="1238.5" y2="74.1" stroke="#2149cc" stroke-width="1.8"/>
<line x1="739.3" y1="345.6" x2="1246.6" y2="81.4" stroke="#2149cc" stroke-width="1.8"/>
<line x1="530" y1="128.9" x2="1421" y2="128.9" stroke="#2149cc" stroke-width="2"/>
<line x1="1174" y1="257" x2="1421" y2="257" stroke="#2149cc" stroke-width="2"/>
<line x1="1213.4" y1="306.8" x2="1421" y2="306.8" stroke="#2149cc" stroke-width="2"/>
<line x1="1168.7" y1="135.5" x2="1221.6" y2="305.7" stroke="#000" stroke-width="1.8"/>
<polyline points="1210.6,300.2 1221.6,305.7 1228.1,294.7" fill="none" stroke="#000" stroke-width="1.8"/>
<text x="1160.3" y="315.5" font-size="12.6" font-weight="700" fill="#2b5bd8">Target</text>
</g>
<text stroke="#131722" stroke-width="0.15" x="61" y="78.6" font-size="10.8" fill="#131722">Bitcoin / U.S. Dollar · 1W · Bitstamp</text>
<text stroke="#131722" stroke-width="0.15" x="237.4" y="78.6" font-size="10.8" fill="#131722">O</text>
<text stroke="#f23645" stroke-width="0.15" x="245.6" y="78.6" font-size="10.8" fill="#f23645">110,524</text>
<text stroke="#131722" stroke-width="0.15" x="289.2" y="78.6" font-size="10.8" fill="#131722">H</text>
<text stroke="#f23645" stroke-width="0.15" x="297.5" y="78.6" font-size="10.8" fill="#f23645">110,730</text>
<text stroke="#131722" stroke-width="0.15" x="340.1" y="78.6" font-size="10.8" fill="#131722">L</text>
<text stroke="#f23645" stroke-width="0.15" x="345.3" y="78.6" font-size="10.8" fill="#f23645">103,576</text>
<text stroke="#131722" stroke-width="0.15" x="390.5" y="78.6" font-size="10.8" fill="#131722">C</text>
<text stroke="#f23645" stroke-width="0.15" x="398.7" y="78.6" font-size="10.8" fill="#f23645">103,670</text>
<text stroke="#f23645" stroke-width="0.15" x="442.9" y="78.6" font-size="10.8" fill="#f23645">−6,860 (−6.21%)</text>
<text stroke="#131722" stroke-width="0.15" x="61" y="93" font-size="11" fill="#131722">SMAs (50, close, 100, close, 200, close)</text>
<text stroke="#f5f23a" stroke-width="0.15" x="262.4" y="93" font-size="11" fill="#f5f23a">103,006</text>
<text stroke="#801818" stroke-width="0.15" x="308.1" y="93" font-size="11" fill="#801818">82,259</text>
<text stroke="#7b1fa2" stroke-width="0.15" x="349.3" y="93" font-size="11" fill="#7b1fa2">55,054</text>
<rect x="1424.5" y="64.5" width="52" height="22" rx="4" fill="#fff" stroke="#eeeeee"/>
<text stroke="#131722" stroke-width="0.15" x="1432" y="79.2" font-size="11.5" fill="#131722">USD</text>
<text stroke="#131722" stroke-width="0.15" x="1429" y="97.8" font-size="11.5" fill="#131722">125,000</text>
<text stroke="#131722" stroke-width="0.15" x="1429" y="157.4" font-size="11.5" fill="#131722">107,000</text>
<text stroke="#131722" stroke-width="0.15" x="1429" y="219.6" font-size="11.5" fill="#131722">91,000</text>
<text stroke="#131722" stroke-width="0.15" x="1429" y="254.9" font-size="11.5" fill="#131722">83,000</text>
<text stroke="#131722" stroke-width="0.15" x="1429" y="291.2" font-size="11.5" fill="#131722">75,500</text>
<text stroke="#131722" stroke-width="0.15" x="1429" y="317.5" font-size="11.5" fill="#131722">70,500</text>
<text stroke="#131722" stroke-width="0.15" x="1429" y="351.6" font-size="11.5" fill="#131722">64,500</text>
<text stroke="#131722" stroke-width="0.15" x="1429" y="389.1" font-size="11.5" fill="#131722">58,500</text>
<text stroke="#131722" stroke-width="0.15" x="1429" y="445.5" font-size="11.5" fill="#131722">50,500</text>
<text stroke="#131722" stroke-width="0.15" x="1429" y="477.1" font-size="11.5" fill="#131722">46,500</text>
<text stroke="#131722" stroke-width="0.15" x="1429" y="511.6" font-size="11.5" fill="#131722">42,500</text>
<text stroke="#131722" stroke-width="0.15" x="1429" y="539.7" font-size="11.5" fill="#131722">39,500</text>
<text stroke="#131722" stroke-width="0.15" x="1429" y="567.9" font-size="11.5" fill="#131722">36,700</text>
<text stroke="#131722" stroke-width="0.15" x="1429" y="596.1" font-size="11.5" fill="#131722">34,100</text>
<rect x="1421.3" y="121.5" width="53.7" height="14.2" rx="1.5" fill="#2962ff"/>
<text x="1429" y="132.7" font-size="11.5" fill="#fff">114,550</text>
<rect x="1421.3" y="160" width="53.7" height="25.8" rx="1.5" fill="#f23645"/>
<text x="1429" y="171" font-size="11.5" fill="#fff">103,670</text>
<text x="1429" y="182.8" font-size="11.5" fill="#fff">5d 14h</text>
<rect x="1421.3" y="185.8" width="53.7" height="14.8" rx="1.5" fill="#ffff00"/>
<text stroke="#131722" stroke-width="0.15" x="1429" y="197.3" font-size="11.5" fill="#131722">103,006</text>
<rect x="1421.3" y="249" width="47.7" height="13.0" rx="1.5" fill="#880e0e"/>
<text x="1429" y="259.6" font-size="11.5" fill="#fff">82,259</text>
<rect x="1421.3" y="262.3" width="47.7" height="15.4" rx="1.5" fill="#2962ff"/>
<text x="1429" y="274.1" font-size="11.5" fill="#fff">82,000</text>
<rect x="1421.3" y="299.6" width="47.7" height="13.6" rx="1.5" fill="#2962ff"/>
<text x="1429" y="310.5" font-size="11.5" fill="#fff">72,000</text>
<rect x="1421.3" y="402.8" width="47.7" height="13.6" rx="1.5" fill="#7b1fa2"/>
<text x="1429" y="413.7" font-size="11.5" fill="#fff">55,054</text>
<g clip-path="url(#rsiclip)">
<rect x="54" y="657.6" width="1367" height="81.6" fill="#7e57c2" fill-opacity="0.12"/>
<line x1="54" y1="637.3" x2="1421" y2="637.3" stroke="#ececf0" stroke-width="1"/>
<line x1="54" y1="677.9" x2="1421" y2="677.9" stroke="#ececf0" stroke-width="1"/>
<line x1="54" y1="718.6" x2="1421" y2="718.6" stroke="#ececf0" stroke-width="1"/>
<line x1="54" y1="657.6" x2="1421" y2="657.6" stroke="#50535e" stroke-width="1" stroke-dasharray="3.2,2.8"/>
<line x1="54" y1="698.4" x2="1421" y2="698.4" stroke="#a0a3ab" stroke-width="1" stroke-dasharray="3,3"/>
<line x1="54" y1="739.2" x2="1421" y2="739.2" stroke="#50535e" stroke-width="1" stroke-dasharray="3.2,2.8"/>
<path d="M53.9,657.6 L53.9,657.6 L57.0,657.6 L65.0,657.6 L73.0,657.6 L81.1,657.6 L89.1,657.6 L97.2,657.6 L105.2,657.6 L113.2,657.6 L121.3,657.6 L129.3,657.6 L137.3,657.6 L145.4,657.6 L153.4,657.6 L161.5,657.6 L169.5,657.6 L177.5,657.6 L185.6,657.6 L193.6,657.6 L201.7,657.6 L209.7,657.6 L217.7,657.6 L225.8,657.6 L233.8,657.6 L241.8,657.6 L249.9,657.6 L257.9,657.6 L266.0,657.6 L274.0,657.6 L282.0,657.6 L290.1,657.6 L298.1,657.6 L306.1,657.6 L314.2,657.6 L322.2,655.8 L330.3,653.8 L338.3,646.9 L346.3,646.2 L354.4,645.7 L362.4,638.0 L370.4,630.4 L378.5,650.2 L386.5,646.2 L394.6,651.5 L402.6,647.4 L410.6,657.6 L418.7,657.6 L426.7,657.6 L434.8,657.6 L442.8,644.4 L450.8,636.8 L458.9,639.3 L466.9,624.1 L474.9,620.2 L483.0,623.3 L491.0,629.7 L499.1,625.8 L507.1,636.8 L515.1,651.5 L523.2,655.1 L531.2,657.6 L539.2,657.6 L547.3,657.6 L555.3,657.6 L563.4,657.6 L571.4,657.6 L579.4,657.6 L587.5,657.6 L595.5,657.6 L603.6,657.6 L611.6,657.6 L619.6,657.6 L627.7,657.6 L635.7,657.6 L643.7,657.6 L651.8,657.6 L659.8,657.6 L667.9,657.6 L675.9,657.6 L683.9,657.6 L692.0,657.6 L700.0,657.6 L708.0,657.6 L716.1,657.6 L724.1,657.6 L732.2,657.6 L740.2,657.6 L748.2,657.6 L756.3,657.6 L764.3,650.2 L772.3,643.1 L780.4,644.9 L788.4,641.8 L796.5,639.3 L804.5,657.6 L812.5,657.6 L820.6,657.6 L828.6,657.6 L836.7,657.6 L844.7,657.6 L852.7,657.6 L860.8,657.6 L868.8,657.6 L876.8,657.6 L884.9,657.6 L892.9,657.6 L901.0,657.6 L909.0,657.6 L917.0,657.6 L925.1,657.6 L933.1,657.6 L941.1,657.6 L949.2,657.6 L957.2,657.6 L965.3,657.6 L973.3,657.6 L981.3,657.6 L989.4,657.6 L997.4,657.6 L1005.5,657.6 L1013.5,657.6 L1021.5,657.6 L1029.6,657.6 L1037.6,655.8 L1045.6,657.6 L1053.7,657.6 L1061.7,657.6 L1069.8,657.6 L1077.8,657.6 L1085.8,657.6 L1093.9,657.6 L1101.9,657.6 L1109.9,657.6 L1118.0,657.6 L1126.0,657.6 L1134.1,657.6 L1142.1,657.6 L1150.1,657.6 L1158.2,657.6 L1166.2,657.6 L1174.2,657.6 L1174.2,657.6 Z" fill="url(#gfill)" />
<path d="M53.9,704.1 C56.6,702.6 63.2,699.2 70.4,695.2 C77.6,691.2 89.9,682.9 97.1,680.0 C104.3,677.1 105.3,678.3 113.6,677.9 C121.9,677.5 135.7,677.5 146.7,677.4 C157.7,677.3 169.1,677.0 179.7,677.4 C190.3,677.8 200.5,679.1 210.2,680.0 C219.9,680.9 228.8,681.2 238.1,682.5 C247.4,683.8 255.9,685.9 266.1,687.6 C276.3,689.3 291.5,691.6 299.1,692.7 C306.7,693.8 303.8,695.1 311.8,694.0 C319.9,692.9 336.8,690.0 347.4,685.8 C358.0,681.5 366.5,673.5 375.4,668.5 C384.3,663.5 393.6,658.8 400.8,655.8 C408.0,652.8 411.4,651.6 418.6,650.7 C425.8,649.8 437.0,650.5 444.0,650.2 C451.0,649.9 450.1,650.1 460.5,648.7 C470.9,647.3 493.5,643.1 506.2,641.8 C518.9,640.5 525.7,640.2 536.7,641.1 C547.7,642.0 562.5,644.2 572.3,646.9 C582.0,649.6 587.6,653.3 595.2,657.1 C602.8,660.9 609.5,666.2 618.0,669.8 C626.5,673.4 637.1,676.2 646.0,678.7 C654.9,681.2 662.5,682.5 671.4,685.0 C680.3,687.5 690.9,692.4 699.4,693.9 C707.9,695.4 714.2,694.1 722.2,693.9 C730.2,693.7 738.8,695.0 747.7,692.7 C756.6,690.4 767.1,684.2 775.6,680.0 C784.1,675.8 791.9,669.8 798.5,667.3 C805.1,664.8 808.0,666.4 815.0,665.0 C822.0,663.6 831.9,660.0 840.4,658.9 C848.9,657.8 858.2,657.4 865.8,658.4 C873.4,659.4 877.7,661.2 886.2,664.7 C894.7,668.2 907.4,675.4 916.7,679.2 C926.0,683.0 935.3,685.7 942.1,687.6 C948.9,689.5 948.8,690.8 957.3,690.9 C965.8,691.0 982.7,689.9 992.9,688.4 C1003.1,686.9 1009.8,684.2 1018.3,681.7 C1026.8,679.2 1037.3,675.2 1043.7,673.1 C1050.1,671.0 1050.5,670.0 1056.4,669.0 C1062.3,668.0 1070.8,666.8 1079.3,667.3 C1087.8,667.8 1098.3,671.3 1107.2,672.3 C1116.1,673.3 1125.1,672.2 1132.7,673.1 C1140.3,674.0 1146.2,675.5 1153.0,677.4 C1159.8,679.3 1170.3,683.1 1173.8,684.3" fill="none" stroke="#f2c94c" stroke-width="1.05"/>
<polyline points="53.9,694.0 57.0,694.5 65.0,666.5 73.0,667.3 81.1,666.0 89.1,665.5 97.2,657.9 105.2,678.2 113.2,671.1 121.3,676.2 129.3,686.3 137.3,687.6 145.4,680.7 153.4,687.6 161.5,694.5 169.5,692.2 177.5,672.3 185.6,671.6 193.6,674.9 201.7,674.1 209.7,675.6 217.7,681.7 225.8,684.3 233.8,682.5 241.8,706.1 249.9,706.7 257.9,707.4 266.0,708.4 274.0,702.1 282.0,704.1 290.1,689.6 298.1,690.6 306.1,697.8 314.2,676.7 322.2,655.8 330.3,653.8 338.3,646.9 346.3,646.2 354.4,645.7 362.4,638.0 370.4,630.4 378.5,650.2 386.5,646.2 394.6,651.5 402.6,647.4 410.6,662.9 418.7,664.2 426.7,662.9 434.8,660.9 442.8,644.4 450.8,636.8 458.9,639.3 466.9,624.1 474.9,620.2 483.0,623.3 491.0,629.7 499.1,625.8 507.1,636.8 515.1,651.5 523.2,655.1 531.2,663.5 539.2,661.4 547.3,672.3 555.3,662.2 563.4,657.6 571.4,660.4 579.4,657.6 587.5,670.6 595.5,683.3 603.6,685.0 611.6,706.7 619.6,691.4 627.7,676.2 635.7,676.2 643.7,702.3 651.8,701.1 659.8,701.6 667.9,687.6 675.9,704.1 683.9,708.7 692.0,699.0 700.0,689.6 708.0,685.8 716.1,692.2 724.1,692.7 732.2,680.0 740.2,682.0 748.2,680.7 756.3,659.6 764.3,650.2 772.3,643.1 780.4,644.9 788.4,641.8 796.5,639.3 804.5,663.5 812.5,667.3 820.6,661.4 828.6,670.2 836.7,662.2 844.7,661.4 852.7,672.3 860.8,674.9 868.8,675.4 876.8,675.6 884.9,680.7 892.9,708.7 901.0,705.4 909.0,698.5 917.0,704.9 925.1,712.2 933.1,701.1 941.1,697.8 949.2,682.5 957.2,681.7 965.3,668.5 973.3,665.2 981.3,662.2 989.4,670.3 997.4,670.3 1005.5,670.6 1013.5,682.5 1021.5,670.6 1029.6,669.0 1037.6,655.8 1045.6,660.9 1053.7,658.4 1061.7,672.3 1069.8,665.5 1077.8,669.8 1085.8,681.2 1093.9,690.9 1101.9,685.0 1109.9,679.5 1118.0,679.5 1126.0,686.8 1134.1,668.5 1142.1,685.8 1150.1,698.3 1158.2,688.9 1166.2,695.2 1174.2,706.7" fill="none" stroke="#6a52b8" stroke-width="0.95" stroke-linejoin="miter"/>
<line x1="1004.3" y1="651.5" x2="1222.2" y2="680.1" stroke="#2149cc" stroke-width="2"/>
<text x="1184.6" y="669.2" font-size="12.3" font-weight="700" fill="#2b5bd8">Bearish divergence</text>
</g>
<text stroke="#131722" stroke-width="0.15" x="61" y="622.8" font-size="10.5" fill="#131722">RSI (14, close)</text>
<text stroke="#7e57c2" stroke-width="0.15" x="137" y="622.8" font-size="10.5" fill="#7e57c2">45.84</text>
<text stroke="#f5c842" stroke-width="0.15" x="171.6" y="622.8" font-size="10.5" fill="#f5c842">56.64</text>
<text stroke="#131722" stroke-width="0.15" x="1428.5" y="641.4" font-size="11.5" fill="#131722">80.00</text>
<text stroke="#131722" stroke-width="0.15" x="1428.5" y="682.0" font-size="11.5" fill="#131722">60.00</text>
<text stroke="#131722" stroke-width="0.15" x="1428.5" y="722.7" font-size="11.5" fill="#131722">40.00</text>
<rect x="1421.5" y="677.9" width="40.5" height="14.2" rx="1.5" fill="#f9d237"/>
<text stroke="#131722" stroke-width="0.15" x="1428.5" y="689.1" font-size="11.5" fill="#131722">56.64</text>
<rect x="1421.5" y="699.8" width="40.5" height="13.7" rx="1.5" fill="#7e57c2"/>
<text x="1428.5" y="710.8" font-size="11.5" fill="#fff">45.84</text>
<text stroke="#131722" stroke-width="0.15" x="57.0" y="768" font-size="11" text-anchor="middle"  fill="#131722">Mar</text>
<text stroke="#131722" stroke-width="0.15" x="121.3" y="768" font-size="11" text-anchor="middle"  fill="#131722">May</text>
<text stroke="#131722" stroke-width="0.15" x="193.6" y="768" font-size="11" text-anchor="middle"  fill="#131722">Jul</text>
<text stroke="#131722" stroke-width="0.15" x="266.0" y="768" font-size="11" text-anchor="middle"  fill="#131722">Sep</text>
<text stroke="#131722" stroke-width="0.15" x="338.3" y="768" font-size="11" text-anchor="middle"  fill="#131722">Nov</text>
<text x="402.6" y="768" font-size="11" text-anchor="middle" font-weight="700" letter-spacing="0.7" fill="#131722">2024</text>
<text stroke="#131722" stroke-width="0.15" x="474.9" y="768" font-size="11" text-anchor="middle"  fill="#131722">Mar</text>
<text stroke="#131722" stroke-width="0.15" x="547.3" y="768" font-size="11" text-anchor="middle"  fill="#131722">May</text>
<text stroke="#131722" stroke-width="0.15" x="611.6" y="768" font-size="11" text-anchor="middle"  fill="#131722">Jul</text>
<text stroke="#131722" stroke-width="0.15" x="683.9" y="768" font-size="11" text-anchor="middle"  fill="#131722">Sep</text>
<text stroke="#131722" stroke-width="0.15" x="756.3" y="768" font-size="11" text-anchor="middle"  fill="#131722">Nov</text>
<text x="828.6" y="768" font-size="11" text-anchor="middle" font-weight="700" letter-spacing="0.7" fill="#131722">2025</text>
<text stroke="#131722" stroke-width="0.15" x="892.9" y="768" font-size="11" text-anchor="middle"  fill="#131722">Mar</text>
<text stroke="#131722" stroke-width="0.15" x="965.3" y="768" font-size="11" text-anchor="middle"  fill="#131722">May</text>
<text stroke="#131722" stroke-width="0.15" x="1037.6" y="768" font-size="11" text-anchor="middle"  fill="#131722">Jul</text>
<text stroke="#131722" stroke-width="0.15" x="1101.9" y="768" font-size="11" text-anchor="middle"  fill="#131722">Sep</text>
<text stroke="#131722" stroke-width="0.15" x="1174.2" y="768" font-size="11" text-anchor="middle"  fill="#131722">Nov</text>
<text x="1246.6" y="768" font-size="11" text-anchor="middle" font-weight="700" letter-spacing="0.7" fill="#131722">2026</text>
<text stroke="#131722" stroke-width="0.15" x="1310.9" y="768" font-size="11" text-anchor="middle"  fill="#131722">Mar</text>
<text stroke="#131722" stroke-width="0.15" x="1383.2" y="768" font-size="11" text-anchor="middle"  fill="#131722">May</text>
<rect x="0" y="752" width="53" height="22" fill="#fff"/>
<g fill="#131722">
<path d="M55.7,795 H65.8 V807.6 H60.2 V799.3 H55.7 Z"/>
<circle cx="69.9" cy="797" r="2.1"/>
<path d="M74.5,795 H81.3 L77.5,807.6 H70.4 Z"/>
</g>
<text x="87.5" y="807.6" font-size="17.7" font-weight="700" fill="#131722" letter-spacing="0.15">TradingView</text>
<g filter="url(#wsh)">
<rect x="1305.7" y="754.5" width="13.5" height="12.5" rx="1.2" fill="#f4a60b"/>
<rect x="1325" y="754.5" width="13.6" height="52" rx="1.2" fill="#f4a60b"/>
<rect x="1285.5" y="795" width="53" height="11.6" rx="1.2" fill="#f4a60b"/>
<rect x="1285.5" y="772.8" width="14.5" height="16.4" rx="1.2" fill="#f4a60b"/>
</g>
<g filter="url(#wsh)" fill="none" stroke="#ebebeb" stroke-width="5.8" stroke-linecap="butt" stroke-linejoin="miter">
<path d="M1356.5,777.5 L1377.9,762 L1399.8,777.5"/>
<path d="M1365,776.3 H1391.5 M1378.3,777 V800 M1358.3,788.6 H1398.3 M1356.8,802.6 H1399.8"/>
<path d="M1364,795 L1368,797 M1389,795 L1392,797" stroke-width="4"/>
<path d="M1411,764.7 H1440 L1446,770"/>
<path d="M1412.5,773 V803 M1411,773 H1448 V791.5 H1415 M1429.7,773 V791.5 M1412.5,802.5 H1450.5"/>
<path d="M1462.5,800 V762 H1477 V800 M1470,795 L1462,804 M1474,795 L1482,804"/>
<path d="M1484.5,767.6 H1507 M1500.6,760 V805 M1497.5,774 L1484.7,801"/>
<path d="M1521.5,779 L1515.8,792.5 H1524.5 M1512.5,802.5 H1526"/>
<path d="M1530,763.6 H1553 L1532.5,782 M1540,772 L1556,782 M1531.5,787.6 H1557 M1544.3,788 V802 M1530,802.5 H1558"/>
</g>
<path d="M1520.5,760.8 L1513.5,775.5" stroke="#f4a60b" stroke-width="4.8" stroke-linecap="round" filter="url(#wsh)"/>
</svg></body></html>
